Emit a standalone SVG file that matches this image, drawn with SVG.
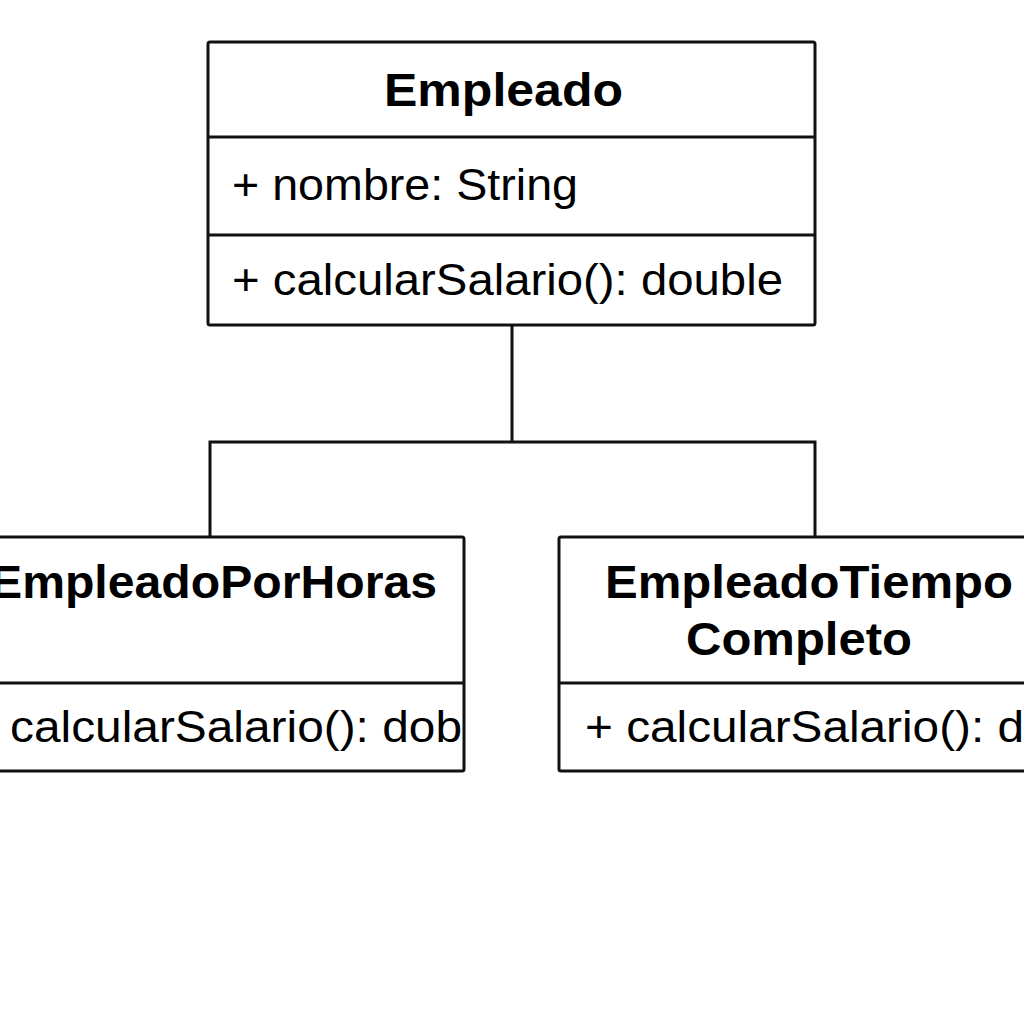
<svg xmlns="http://www.w3.org/2000/svg" width="1024" height="1024" viewBox="0 0 1024 1024">
<style>
.box{fill:#fff;stroke:#111;stroke-width:3;}
.div{stroke:#111;stroke-width:3;}
.conn{fill:none;stroke:#111;stroke-width:3;}
.title{font-family:"Liberation Sans",Arial,sans-serif;font-weight:bold;font-size:46px;fill:#000;}
.member{font-family:"Liberation Sans",Arial,sans-serif;font-size:44px;fill:#000;}
</style>
<rect width="1024" height="1024" fill="#fff"/>
<g id="connectors">
<path class="conn" d="M512,325 V442 M210,537 V442 H815 V537"/>
</g>
<g id="empleado">
<rect class="box" x="208" y="42" width="607" height="283" rx="2"/>
<line class="div" x1="208" y1="137" x2="815" y2="137"/>
<line class="div" x1="208" y1="235" x2="815" y2="235"/>
<text class="title" x="384" y="106" textLength="239" lengthAdjust="spacingAndGlyphs">Empleado</text>
<text class="member" x="232" y="200" textLength="346" lengthAdjust="spacingAndGlyphs">+ nombre: String</text>
<text class="member" x="232" y="295" textLength="551" lengthAdjust="spacingAndGlyphs">+ calcularSalario(): double</text>
</g>
<g id="empleadoPorHoras">
<rect class="box" x="-10" y="537" width="474" height="234" rx="2"/>
<line class="div" x1="-10" y1="683" x2="464" y2="683"/>
<text class="title" x="-10" y="598" textLength="447" lengthAdjust="spacingAndGlyphs">EmpleadoPorHoras</text>
<text class="member" x="10" y="742" textLength="452" lengthAdjust="spacingAndGlyphs">calcularSalario(): dob</text>
</g>
<g id="empleadoTiempoCompleto">
<rect class="box" x="559" y="537" width="490" height="234" rx="2"/>
<line class="div" x1="559" y1="683" x2="1049" y2="683"/>
<text class="title" x="605" y="598" textLength="408" lengthAdjust="spacingAndGlyphs">EmpleadoTiempo</text>
<text class="title" x="686" y="655" textLength="226" lengthAdjust="spacingAndGlyphs">Completo</text>
<text class="member" x="585" y="742" textLength="439" lengthAdjust="spacingAndGlyphs">+ calcularSalario(): d</text>
</g>
</svg>
